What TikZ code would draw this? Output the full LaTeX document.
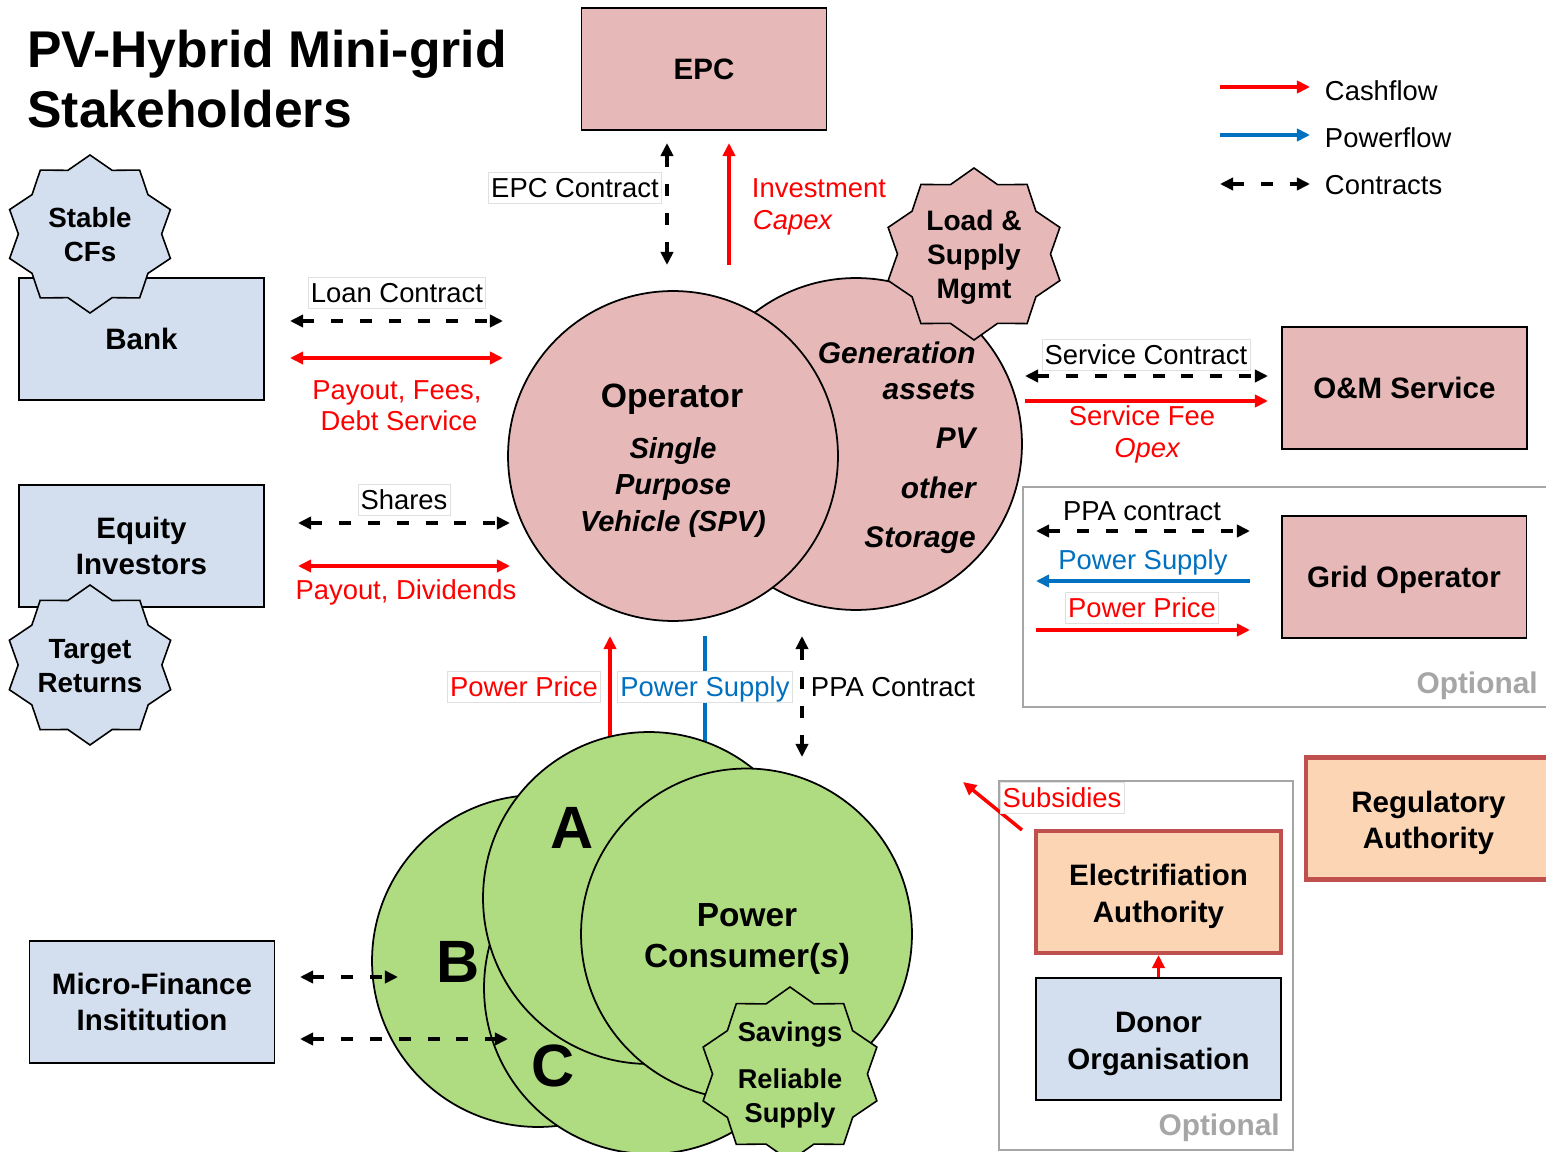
\documentclass[tikz,border=0pt]{standalone}
\usepackage{fontspec}
\setmainfont{Liberation Sans}
\usetikzlibrary{shapes.geometric,arrows.meta}

\definecolor{pinkfill}{HTML}{E6B9B8}
\definecolor{bluefill}{HTML}{D3DFEE}
\definecolor{greenfill}{HTML}{AFDC80}
\definecolor{peachfill}{HTML}{FCD5B5}
\definecolor{redframe}{HTML}{C0504D}
\definecolor{cashred}{HTML}{FF0000}
\definecolor{powerblue}{HTML}{0070C0}
\definecolor{optgray}{HTML}{A6A6A6}

% raises the top of a first text line so that the block sits lower in its box
\newcommand\raisedtop{\rule{0pt}{1.03em}}

\tikzset{
  >={Triangle[length=7.5pt,width=7pt]},
  actor/.style={rectangle, draw=black, line width=1.1pt, minimum width=4.9cm,
    minimum height=2.44cm, inner sep=0pt, align=center,
    font=\fontsize{16.8}{20.7}\selectfont\bfseries},
  pinkbox/.style={actor, fill=pinkfill},
  bluebox/.style={actor, fill=bluefill},
  authbox/.style={actor, fill=peachfill, draw=redframe, line width=2.3pt},
  optframe/.style={rectangle, draw=optgray, line width=1.2pt, inner sep=0pt},
  seal/.style={star, star points=10, star point ratio=1.18, draw=black,
    line width=0.9pt, inner sep=0pt, minimum size=#1, transform shape},
  sealtext/.style={align=center, inner sep=0pt,
    font=\fontsize{15.8}{19.3}\selectfont\bfseries},
  disc/.style={circle, draw=black, line width=1pt, inner sep=0pt, minimum size=#1},
  lbl/.style={inner xsep=1.5pt, inner ysep=0.3pt, text height=14pt, text depth=2.8pt,
    font=\fontsize{15.6}{17.6}\selectfont},
  lblbox/.style={lbl, fill=white, draw=black!12, line width=0.5pt},
  cash/.style={draw=cashred, line width=2pt, ->},
  powerline/.style={draw=powerblue, line width=2pt},
  contract/.style={draw=black, line width=2.2pt, dash pattern=on 6.8pt off 9.6pt, <->},
  optlabel/.style={anchor=east, inner sep=0pt, text=optgray,
    font=\fontsize{17}{20}\selectfont\bfseries},
  letter/.style={inner sep=0pt, font=\fontsize{34}{40}\selectfont\bfseries},
}

\begin{document}
\begin{tikzpicture}[x=0.02cm, y=-0.02cm]
\useasboundingbox (0,0) rectangle (1546,1152);
\clip (0,0) rectangle (1546,1152);
\fill[white] (0,0) rectangle (1546,1152);

% ---------- title ----------
\node[anchor=west, align=left, inner sep=0pt,
  font=\fontsize{29.4}{34.6}\selectfont\bfseries] (title) at (27,79)
  {PV-Hybrid Mini-grid\\Stakeholders};

% ---------- legend ----------
\coordinate (cfA) at (1220,87);  \coordinate (cfB) at (1310,87);
\coordinate (pfA) at (1220,135); \coordinate (pfB) at (1310,135);
\coordinate (ctA) at (1220,184); \coordinate (ctB) at (1310,184);
\draw[cash] (cfA) -- (cfB);
\draw[powerline, ->] (pfA) -- (pfB);
\draw[contract] (ctA) -- (ctB);
\node[lbl, anchor=west] (lgcash) at (1322,91) {Cashflow};
\node[lbl, anchor=west] (lgpower) at (1322,138) {Powerflow};
\node[lbl, anchor=west] (lgcontract) at (1322,185) {Contracts};

% ---------- EPC ----------
\node[pinkbox] (epc) at (704,69) {EPC};
\coordinate (epcA) at (667,143); \coordinate (epcB) at (667,265);
\coordinate (invA) at (729,265); \coordinate (invB) at (729,143);
\draw[contract] (epcA) -- (epcB);
\draw[cash] (invA) -- (invB);
\node[lblbox] (epcc) at (575,188) {EPC Contract};
\node[lbl, anchor=west, text=cashred] (inv) at (749,188) {Investment};
\node[lbl, anchor=west, text=cashred] (capex) at (750,220) {\itshape Capex};

% ---------- bank and investors ----------
\node[bluebox] (bank) at (141.5,339) {Bank};
\node[seal=3.16cm, xscale=1.07, fill=bluefill] (cfs) at (90,234) {};
\node[sealtext] (cfstext) at (90,235) {Stable\\CFs};

\node[bluebox] (equity) at (141.5,546) {Equity\\Investors};
\node[seal=3.2cm, xscale=1.06, fill=bluefill] (target) at (90,665) {};
\node[sealtext] (targettext) at (90,666) {Target\\Returns};

\coordinate (lnA) at (290,321); \coordinate (lnB) at (503,321);
\coordinate (pyA) at (290,358); \coordinate (pyB) at (503,358);
\draw[contract] (lnA) -- (lnB);
\draw[cash, <->] (pyA) -- (pyB);
\node[lblbox] (loan) at (397,293) {Loan Contract};
\node[lbl, text=cashred] (fees) at (397,390) {Payout, Fees,};
\node[lbl, text=cashred] (debt) at (399,421) {Debt Service};

\coordinate (shA) at (298,523); \coordinate (shB) at (510,523);
\coordinate (dvA) at (298,566); \coordinate (dvB) at (510,566);
\draw[contract] (shA) -- (shB);
\draw[cash, <->] (dvA) -- (dvB);
\node[lblbox] (shares) at (404,500) {Shares};
\node[lbl, text=cashred] (divid) at (406,590) {Payout, Dividends};

% ---------- operator / SPV ----------
\node[disc=6.64cm, fill=pinkfill] (gen) at (856,444) {};
\node[seal=3.44cm, xscale=1.05, fill=pinkfill] (lsm) at (974,254) {};
\node[sealtext, font=\fontsize{16}{19.3}\selectfont\bfseries] (lsmtext) at (974,257)
  {Load \&\\Supply\\Mgmt};
\node[disc=6.6cm, fill=pinkfill] (op) at (673,456) {};
\node[inner sep=0pt, font=\fontsize{19.2}{22}\selectfont\bfseries] (optitle)
  at (672,399) {Operator};
\node[align=center, inner sep=0pt,
  font=\fontsize{16.5}{20.7}\selectfont\bfseries\itshape] (spv) at (673,487.5)
  {Single\\Purpose\\Vehicle (SPV)};
\node[anchor=east, align=right, inner sep=0pt,
  font=\fontsize{17}{20.4}\selectfont\bfseries\itshape] (gentext) at (976,448)
  {Generation\\assets\\[7.4pt]PV\\[7.9pt]other\\[7.9pt]Storage};

% ---------- O&M ----------
\node[pinkbox] (om) at (1404.5,388) {O\&M Service};
\coordinate (scA) at (1025,376); \coordinate (scB) at (1268,376);
\coordinate (sfA) at (1025,401); \coordinate (sfB) at (1268,401);
\draw[contract] (scA) -- (scB);
\draw[cash] (sfA) -- (sfB);
\node[lblbox] (svc) at (1146,355) {Service Contract};
\node[lbl, text=cashred] (sfee) at (1142,416) {Service Fee};
\node[lbl, text=cashred] (opex) at (1147,448) {\itshape Opex};

% ---------- grid operator (optional) ----------
\node[optframe, minimum width=10.74cm, minimum height=4.4cm] (optA) at (1291.5,597) {};
\node[optlabel] (optAtext) at (1538,686) {Optional};
\node[pinkbox, text depth=0pt] (grid) at (1404,577) {Grid Operator};
\coordinate (ppA) at (1036,531); \coordinate (ppB) at (1250,531);
\coordinate (psA) at (1250,581); \coordinate (psB) at (1036,581);
\coordinate (prA) at (1036,630); \coordinate (prB) at (1250,630);
\draw[contract] (ppA) -- (ppB);
\draw[powerline, ->] (psA) -- (psB);
\draw[cash] (prA) -- (prB);
\node[lbl] (ppa) at (1142,511) {PPA contract};
\node[lbl, text=powerblue] (gsupply) at (1143,560) {Power Supply};
\node[lblbox, text=cashred] (gprice) at (1142,608) {Power Price};

% ---------- links to the consumers ----------
\coordinate (cpA) at (610,745); \coordinate (cpB) at (610,636);
\coordinate (csA) at (705,636); \coordinate (csB) at (705,750);
\coordinate (ccA) at (802,636); \coordinate (ccB) at (802,757);
\draw[cash] (cpA) -- (cpB);
\draw[powerline] (csA) -- (csB);
\draw[contract] (ccA) -- (ccB);
\node[lblbox, text=cashred] (cprice) at (524,687) {Power Price};
\node[lblbox, text=powerblue] (csupply) at (705,687) {Power Supply};
\node[lbl, anchor=west] (cppa) at (808,687) {PPA Contract};

% ---------- power consumers ----------
\node[disc=6.64cm, fill=greenfill] (grpB) at (538,961) {};
\node[disc=6.64cm, fill=greenfill] (grpC) at (650,988) {};
\node[disc=6.64cm, fill=greenfill] (grpA) at (649,898) {};
\node[disc=6.62cm, fill=greenfill] (consumer) at (746.5,934) {};
\node[letter] (la) at (572,828) {A};
\node[letter] (lb) at (458,962) {B};
\node[letter] (lc) at (553,1066) {C};
\node[align=center, inner sep=0pt, font=\fontsize{19}{23.8}\selectfont\bfseries]
  (constext) at (747,939) {Power\\Consumer(\textit{s})};
\node[seal=3.48cm, xscale=1.05, fill=greenfill] (benefit) at (790,1074) {};
\node[sealtext, font=\fontsize{15.5}{19.8}\selectfont\bfseries] (benefittext)
  at (790,1075) {Savings\\[6.8pt]Reliable\\Supply};

% ---------- micro-finance ----------
\node[bluebox] (mfi) at (152,1002) {Micro-Finance\\Insititution};
\coordinate (mfA) at (300,977);  \coordinate (mfB) at (398,977);
\coordinate (mfC) at (300,1039); \coordinate (mfD) at (508,1039);
\draw[contract] (mfA) -- (mfB);
\draw[contract] (mfC) -- (mfD);

% ---------- authorities ----------
\node[authbox] (reg) at (1428.5,818.5) {\raisedtop Regulatory\\Authority};
\node[optframe, minimum width=5.88cm, minimum height=7.38cm] (optB) at (1146,965.5) {};
\node[optlabel] (optBtext) at (1280,1128) {Optional};
\node[authbox] (elec) at (1158.5,892) {\raisedtop Electrifiation\\Authority};
\node[bluebox] (donor) at (1158.5,1039) {\raisedtop Donor\\Organisation};
\draw[cash] (donor.north) -- (elec.south);
\coordinate (subA) at (1022,830); \coordinate (subB) at (963,782);
\draw[cash] (subA) -- (subB);
\node[lblbox, text=cashred] (subs) at (1062,798) {Subsidies};

\end{tikzpicture}
\end{document}
